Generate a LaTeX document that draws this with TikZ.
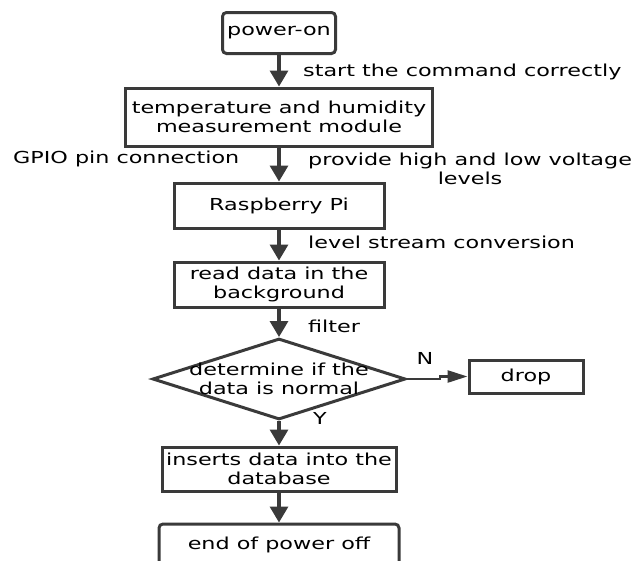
\documentclass[tikz,border=0pt]{standalone}
\usepackage{fontspec}
\newfontfamily\flowfont[FakeStretch=1.35]{DejaVu Sans}
\usetikzlibrary{shapes.geometric}
\usetikzlibrary{arrows.meta}
\definecolor{linegray}{RGB}{58,58,58}

\begin{document}
\begin{tikzpicture}
	    [x=1pt, y=-1pt,
	    process/.style={draw=linegray, line width=3pt, align=center, inner sep=0pt},
	    terminal/.style={process, rounded corners=4pt},
	    decision/.style={diamond, draw=linegray, line width=3pt, inner sep=0pt},
	    note/.style={anchor=west, align=center, inner sep=0pt},
	    flow/.style={->, draw=linegray, line width=3.4pt},
	    >={Triangle[width=18pt, length=16pt]},
	    font=\flowfont\fontsize{16.5}{19}\selectfont]
	     \useasboundingbox (0,0) rectangle (635,560);
	     \node[terminal, minimum width=113pt, minimum height=41pt] (P1) at (279, 33)   {power-on};
	     \node[process, minimum width=307pt, minimum height=58pt] (T1) at (279, 117)   {temperature and humidity\\measurement module};
	     \node[process, minimum width=210pt, minimum height=45pt] (R1) at (279, 205.5)   {Raspberry Pi};
	     \node[process, minimum width=210pt, minimum height=45pt] (B1) at (279, 284.5)   {read data in the\\background};
	     \node[decision, minimum width=253pt, minimum height=81pt] (C1) at (279, 379)   {};
	     \node[align=center, inner sep=0pt] (C1t) at (C1)   {determine if the\\data is normal};
	     \node[process, minimum width=114pt, minimum height=33pt] (D1) at (526, 376.5)   {drop};
	     \node[process, minimum width=234pt, minimum height=44pt] (I1) at (279, 469)   {inserts data into the\\database};
	     \node[terminal, minimum width=240pt, minimum height=42pt] (E1) at (279, 545)   {end of power off};
	     \node[note] (L1) at (303, 72)   {start the command correctly};
	     \node[note] (L2) at (13, 159)   {GPIO pin connection};
	     \node[note] (L3) at (308, 169)   {provide high and low voltage\\levels};
	     \node[note] (L4) at (308, 242)   {level stream conversion};
	     \node[note] (L5) at (308, 326)   {filter};
	     \node[] (LN) at (425, 358)   {N};
	     \node[] (LY) at (320, 418)   {Y};
	     \draw[flow] (P1) -- (T1);
	     \draw[flow] (T1) -- (R1);
	     \draw[flow] (R1) -- (B1);
	     \draw[flow] (B1) -- (C1);
	     \draw[flow, line width=2.6pt, -{Triangle[width=12pt, length=20pt]}] (C1.east) -- ++(33,0) |- (D1.west);
	     \draw[flow] (C1) -- (I1);
	     \draw[flow] (I1) -- (E1);
	\end{tikzpicture}
\end{document}
